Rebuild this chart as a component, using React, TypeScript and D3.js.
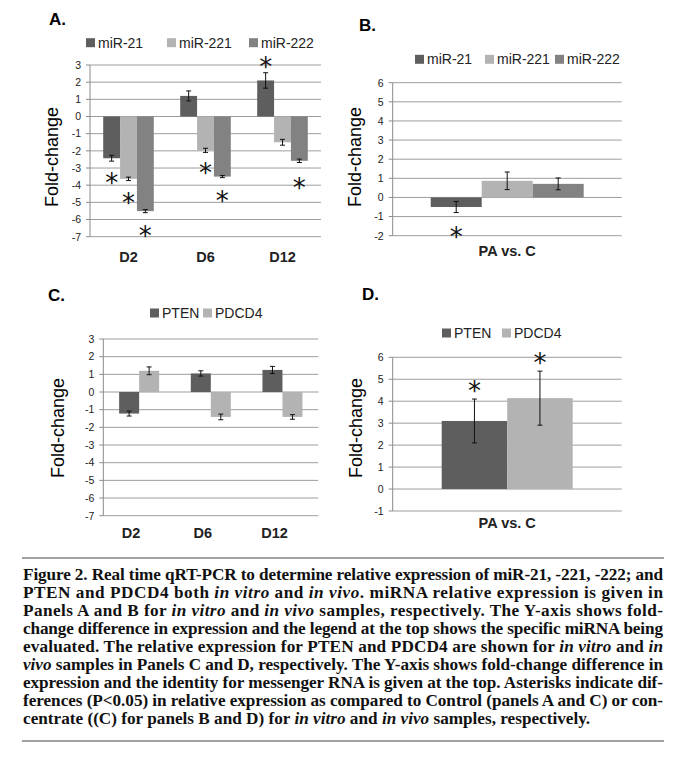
import React from 'react';
import * as d3 from 'd3';

// categories
const dayGroups = ['D2', 'D6', 'D12'];
const vivoGroup = ['PA vs. C'];

// panel A: miRNA in vitro (one value per day)
const mir21Vitro = [-2.43, 1.2, 2.1];
const mir21VitroErr = [0.17, 0.29, 0.45];
const mir21VitroStar = [-3.5, null, 3.24];
const mir221Vitro = [-3.63, -1.97, -1.5];
const mir221VitroErr = [0.1, 0.12, 0.17];
const mir221VitroStar = [-4.66, -2.95, null];
const mir222Vitro = [-5.51, -3.5, -2.58];
const mir222VitroErr = [0.09, 0.06, 0.1];
const mir222VitroStar = [-6.6, -4.56, -3.83];

// panel B: miRNA in vivo
const mir21Vivo = [-0.5];
const mir21VivoErr = [0.29];
const mir21VivoStar = [-1.75];
const mir221Vivo = [0.87];
const mir221VivoErr = [0.46];
const mir222Vivo = [0.71];
const mir222VivoErr = [0.31];

// panel C: mRNA in vitro
const ptenVitro = [-1.22, 1.05, 1.25];
const ptenVitroErr = [0.14, 0.15, 0.2];
const pdcd4Vitro = [1.2, -1.41, -1.41];
const pdcd4VitroErr = [0.22, 0.16, 0.13];

// panel D: mRNA in vivo
const ptenVivo = [3.1];
const ptenVivoErr = [1.0];
const ptenVivoStar = [4.74];
const pdcd4Vivo = [4.14];
const pdcd4VivoErr = [1.23];
const pdcd4VivoStar = [6.0];

// tick labels
const ticksAC = [-7, -6, -5, -4, -3, -2, -1, 0, 1, 2, 3];
const ticksB = [-2, -1, 0, 1, 2, 3, 4, 5, 6];
const ticksD = [-1, 0, 1, 2, 3, 4, 5, 6];

const DARK = '#5e5e5e';
const LIGHT = '#b3b3b3';
const MID = '#828282';

// caption, _..._ marks italics; last line is not justified
const captionLines = [
  'Figure 2. Real time qRT-PCR to determine relative expression of miR-21, -221, -222; and',
  'PTEN and PDCD4 both _in vitro_ and _in vivo_. miRNA relative expression is given in',
  'Panels A and B for _in vitro_ and _in vivo_ samples, respectively. The Y-axis shows fold-',
  'change difference in expression and the legend at the top shows the specific miRNA being',
  'evaluated. The relative expression for PTEN and PDCD4 are shown for _in vitro_ and _in_',
  '_vivo_ samples in Panels C and D, respectively. The Y-axis shows fold-change difference in',
  'expression and the identity for messenger RNA is given at the top. Asterisks indicate dif-',
  'ferences (P<0.05) in relative expression as compared to Control (panels A and C) or con-',
  'centrate ((C) for panels B and D) for _in vitro_ and _in vivo_ samples, respectively.',
];

type Series = {
  name: string;
  color: string;
  values: number[];
  errors: number[];
  stars?: (number | null)[];
};

type PanelProps = {
  title: string;
  titleX: number;
  titleY: number;
  groups: string[];
  series: Series[];
  domain: [number, number];
  ticks: number[];
  left: number;
  right: number;
  top: number;
  bottom: number;
  pad: number;
  legendY: number;
  legendX: number[];
  ylabX: number;
  ylabY: number;
  catY: number;
  catDx?: number;
};

const FONT = '"Liberation Sans", Arial, sans-serif';

const Panel: React.FC<PanelProps> = (p) => {
  const x0 = d3
    .scaleBand()
    .domain(p.groups)
    .range([p.left, p.right])
    .paddingInner(p.pad)
    .paddingOuter(p.pad / 2);
  const x1 = d3
    .scaleBand()
    .domain(p.series.map((s) => s.name))
    .range([0, x0.bandwidth()]);
  const y = d3.scaleLinear().domain(p.domain).range([p.bottom, p.top]);
  const starSize = 26;

  return (
    <g fontFamily={FONT}>
      <text x={p.titleX} y={p.titleY} fontSize={17} fontWeight="bold">
        {p.title}
      </text>

      {/* legend */}
      {p.series.map((s, i) => (
        <g key={s.name}>
          <rect x={p.legendX[i] - 12} y={p.legendY - 4.5} width={9} height={9} fill={s.color} />
          <text x={p.legendX[i]} y={p.legendY + 5} fontSize={14} fill="#222">
            {s.name}
          </text>
        </g>
      ))}

      {/* grid + axis */}
      {p.ticks.map((t) => (
        <g key={t}>
          <line x1={p.left} x2={p.right} y1={y(t)} y2={y(t)} stroke="#9d9d9d" strokeWidth={1} />
          <line x1={p.left - 4} x2={p.left} y1={y(t)} y2={y(t)} stroke="#8a8a8a" />
          <text x={p.left - 9} y={y(t) + 3.8} fontSize={10.5} textAnchor="end" fill="#222">
            {t}
          </text>
        </g>
      ))}
      <line x1={p.left} x2={p.left} y1={p.top} y2={p.bottom} stroke="#8a8a8a" />

      <text
        transform={`translate(${p.ylabX},${p.ylabY}) rotate(-90)`}
        textAnchor="middle"
        dominantBaseline="central"
        fontSize={18}
      >
        Fold-change
      </text>

      {/* bars */}
      {p.series.map((s) =>
        p.groups.map((g, gi) => {
          const v = s.values[gi];
          const e = s.errors[gi];
          const bx = (x0(g) as number) + (x1(s.name) as number);
          const bw = x1.bandwidth();
          const cx = bx + bw / 2;
          const star = s.stars ? s.stars[gi] : null;
          return (
            <g key={s.name + g}>
              <rect
                x={bx}
                y={Math.min(y(v), y(0))}
                width={bw}
                height={Math.abs(y(v) - y(0))}
                fill={s.color}
              />
              <line x1={cx} x2={cx} y1={y(v + e)} y2={y(v - e)} stroke="#111" strokeWidth={1} />
              <line x1={cx - 2.5} x2={cx + 2.5} y1={y(v + e)} y2={y(v + e)} stroke="#111" />
              <line x1={cx - 2.5} x2={cx + 2.5} y1={y(v - e)} y2={y(v - e)} stroke="#111" />
              {star != null && (
                <text
                  x={cx}
                  y={y(star) + starSize * 0.58}
                  fontSize={starSize}
                  textAnchor="middle"
                  fontFamily='"DejaVu Sans", sans-serif'
                  fill="#111"
                >
                  *
                </text>
              )}
            </g>
          );
        })
      )}

      {/* category labels */}
      {p.groups.map((g) => (
        <text
          key={g}
          x={(x0(g) as number) + x0.bandwidth() / 2 + (p.catDx || 0)}
          y={p.catY}
          fontSize={14.5}
          fontWeight="bold"
          textAnchor="middle"
          fill="#222"
        >
          {g}
        </text>
      ))}
    </g>
  );
};

const Caption: React.FC = () => {
  const x = 23;
  const width = 640;
  return (
    <g fontFamily='"Liberation Serif", "Times New Roman", serif' fontWeight="bold" fontSize={17.2} fill="#111">
      <line x1={22} x2={664} y1={558} y2={558} stroke="#444" strokeWidth={1.2} />
      {captionLines.map((line, i) => {
        const parts = line.split('_');
        const last = i === captionLines.length - 1;
        return (
          <text
            key={i}
            x={x}
            y={580 + i * 18}
            textLength={last ? undefined : width}
            lengthAdjust={last ? undefined : 'spacing'}
          >
            {parts.map((part, j) => (
              <tspan key={j} fontStyle={j % 2 === 1 ? 'italic' : 'normal'}>
                {part}
              </tspan>
            ))}
          </text>
        );
      })}
      <line x1={22} x2={664} y1={741} y2={741} stroke="#444" strokeWidth={1.2} />
    </g>
  );
};

export default function App() {
  const mirVitro: Series[] = [
    { name: 'miR-21', color: DARK, values: mir21Vitro, errors: mir21VitroErr, stars: mir21VitroStar },
    { name: 'miR-221', color: LIGHT, values: mir221Vitro, errors: mir221VitroErr, stars: mir221VitroStar },
    { name: 'miR-222', color: MID, values: mir222Vitro, errors: mir222VitroErr, stars: mir222VitroStar },
  ];
  const mirVivo: Series[] = [
    { name: 'miR-21', color: DARK, values: mir21Vivo, errors: mir21VivoErr, stars: mir21VivoStar },
    { name: 'miR-221', color: LIGHT, values: mir221Vivo, errors: mir221VivoErr },
    { name: 'miR-222', color: MID, values: mir222Vivo, errors: mir222VivoErr },
  ];
  const mrnaVitro: Series[] = [
    { name: 'PTEN', color: DARK, values: ptenVitro, errors: ptenVitroErr },
    { name: 'PDCD4', color: LIGHT, values: pdcd4Vitro, errors: pdcd4VitroErr },
  ];
  const mrnaVivo: Series[] = [
    { name: 'PTEN', color: DARK, values: ptenVivo, errors: ptenVivoErr, stars: ptenVivoStar },
    { name: 'PDCD4', color: LIGHT, values: pdcd4Vivo, errors: pdcd4VivoErr, stars: pdcd4VivoStar },
  ];

  return (
    <svg
      width={685}
      height={758}
      style={{ position: 'absolute', left: 0, top: 0, background: '#fff' }}
    >
      <rect width={685} height={758} fill="#fff" />
      <Panel
        title="A."
        titleX={49}
        titleY={25}
        groups={dayGroups}
        series={mirVitro}
        domain={[-7, 3]}
        ticks={ticksAC}
        left={90}
        right={321}
        top={65}
        bottom={236.7}
        pad={0.343}
        legendY={42.7}
        legendX={[98, 179, 261]}
        ylabX={52}
        ylabY={157}
        catY={262}
      />
      <Panel
        title="B."
        titleX={359}
        titleY={31}
        groups={vivoGroup}
        series={mirVivo}
        domain={[-2, 6]}
        ticks={ticksB}
        left={392.7}
        right={621.7}
        top={82.7}
        bottom={235.7}
        pad={0.332}
        legendY={59.3}
        legendX={[427, 497, 567]}
        ylabX={355}
        ylabY={157}
        catY={256}
      />
      <Panel
        title="C."
        titleX={48}
        titleY={301}
        groups={dayGroups}
        series={mrnaVitro}
        domain={[-7, 3]}
        ticks={ticksAC}
        left={103.3}
        right={318.3}
        top={339}
        bottom={515.7}
        pad={0.442}
        legendY={313}
        legendX={[162, 215]}
        ylabX={58}
        ylabY={428}
        catY={538}
        catDx={-8}
      />
      <Panel
        title="D."
        titleX={362}
        titleY={300}
        groups={vivoGroup}
        series={mrnaVivo}
        domain={[-1, 6]}
        ticks={ticksD}
        left={392.7}
        right={621.7}
        top={357.3}
        bottom={511}
        pad={0.428}
        legendY={333}
        legendX={[454, 514]}
        ylabX={356}
        ylabY={428}
        catY={528}
      />
      <Caption />
    </svg>
  );
}
